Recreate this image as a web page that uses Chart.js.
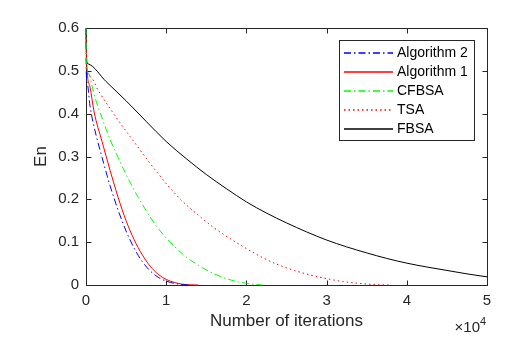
<!DOCTYPE html>
<html>
<head>
<meta charset="utf-8">
<script src="https://cdn.jsdelivr.net/npm/chart.js@4/dist/chart.umd.min.js"></script>
<style>
html,body{margin:0;padding:0;background:#fff;}
#wrap{width:518px;height:339px;}
</style>
</head>
<body>
<div id="wrap"><canvas id="c" width="518" height="339"></canvas></div>
<script>
// ---- data (x in iterations, y = En) ----
const seriesNames = ['Algorithm 2', 'Algorithm 1', 'CFBSA', 'TSA', 'FBSA'];

const alg2Iter = [0, 30, 170, 500, 1000, 2000, 3000, 4000, 5000, 6000, 7000, 8000, 9000, 10000, 11000, 12000, 13000];
const alg2En   = [0.6, 0.5, 0.471, 0.418, 0.37, 0.298, 0.232, 0.175, 0.126, 0.086, 0.055, 0.033, 0.018, 0.009, 0.004, 0.001, 0];

const alg1Iter = [0, 80, 500, 1000, 2000, 3000, 4000, 5000, 6000, 7000, 8000, 9000, 10000, 11000, 12000, 13000, 14000];
const alg1En   = [0.6, 0.52, 0.462, 0.405, 0.335, 0.268, 0.205, 0.15, 0.106, 0.071, 0.044, 0.025, 0.013, 0.006, 0.002, 0.0005, 0];

const cfbsaIter = [0, 50, 300, 1000, 2000, 3000, 4000, 5000, 6000, 7000, 8000, 9000, 10000, 12000, 14000, 16000, 18000, 20000, 22000];
const cfbsaEn   = [0.6, 0.515, 0.495, 0.445, 0.39, 0.34, 0.298, 0.258, 0.222, 0.189, 0.159, 0.132, 0.11, 0.073, 0.046, 0.026, 0.012, 0.004, 0];

const tsaIter = [0, 50, 500, 1500, 3000, 4500, 6000, 7500, 9000, 10500, 12000, 14000, 16000, 18000, 20000, 22000, 24000, 26000, 28000, 30000, 32000, 34000, 36000, 38000];
const tsaEn   = [0.6, 0.51, 0.488, 0.455, 0.412, 0.372, 0.334, 0.296, 0.26, 0.226, 0.196, 0.163, 0.133, 0.108, 0.085, 0.064, 0.047, 0.034, 0.023, 0.015, 0.008, 0.004, 0.001, 0];

const fbsaIter = [0, 100, 300, 2500, 5000, 7500, 10000, 12500, 15000, 17500, 20000, 22500, 25000, 27500, 30000, 32500, 35000, 37500, 40000, 42500, 45000, 47500, 50000];
const fbsaEn   = [0.6, 0.522, 0.516, 0.475, 0.43, 0.382, 0.335, 0.295, 0.258, 0.225, 0.194, 0.168, 0.145, 0.124, 0.105, 0.089, 0.075, 0.062, 0.051, 0.042, 0.034, 0.026, 0.019];

const xTicks = [0, 10000, 20000, 30000, 40000, 50000];
const xTickLabels = ['0', '1', '2', '3', '4', '5'];
const yTicks = [0, 0.1, 0.2, 0.3, 0.4, 0.5, 0.6];
const yTickLabels = ['0', '0.1', '0.2', '0.3', '0.4', '0.5', '0.6'];
const xTitle = 'Number of iterations';
const yTitle = 'En';
const xExponentBase = '\u00d710';
const xExponent = '4';

// ---- styling ----
const FONT = "'Liberation Sans', Arial, Helvetica, sans-serif";
const AX = '#262626';
const DASHDOT = [7, 3, 1.5, 3];
const DOT = [1.5, 3];

function pts(xs, ys) { return xs.map((x, i) => ({ x: x, y: ys[i] })); }

const styles = [
  { color: '#0000FF', dash: DASHDOT },
  { color: '#FF0000', dash: [] },
  { color: '#00FF00', dash: DASHDOT },
  { color: '#FF0000', dash: DOT },
  { color: '#000000', dash: [] }
];
const seriesData = [
  pts(alg2Iter, alg2En),
  pts(alg1Iter, alg1En),
  pts(cfbsaIter, cfbsaEn),
  pts(tsaIter, tsaEn),
  pts(fbsaIter, fbsaEn)
];

const datasets = seriesNames.map((name, i) => ({
  label: name,
  data: seriesData[i],
  borderColor: styles[i].color,
  backgroundColor: styles[i].color,
  borderDash: styles[i].dash,
  borderWidth: 1,
  pointRadius: 0,
  pointHoverRadius: 0,
  fill: false,
  cubicInterpolationMode: 'monotone',
  clip: false,
  order: name === 'CFBSA' ? -1 : i
}));

const framePlugin = {
  id: 'frame',
  beforeDatasetsDraw(chart) {
    const { ctx, chartArea: a, scales } = chart;
    ctx.save();
    ctx.strokeStyle = AX;
    ctx.lineWidth = 1;
    ctx.setLineDash([]);
    ctx.strokeRect(a.left + 0.5, a.top + 0.5, a.right - a.left, a.bottom - a.top);
    const tl = 5;
    ctx.beginPath();
    xTicks.forEach(v => {
      const px = Math.round(scales.x.getPixelForValue(v)) + 0.5;
      ctx.moveTo(px, a.bottom + 0.5); ctx.lineTo(px, a.bottom + 0.5 - tl);
      ctx.moveTo(px, a.top + 0.5); ctx.lineTo(px, a.top + 0.5 + tl);
    });
    yTicks.forEach(v => {
      const py = Math.round(scales.y.getPixelForValue(v)) + 0.5;
      ctx.moveTo(a.left + 0.5, py); ctx.lineTo(a.left + 0.5 + tl, py);
      ctx.moveTo(a.right + 0.5, py); ctx.lineTo(a.right + 0.5 - tl, py);
    });
    ctx.stroke();
    ctx.restore();
  },
  afterDraw(chart) {
    const { ctx, chartArea: a } = chart;
    ctx.save();
    // exponent label
    ctx.fillStyle = AX;
    ctx.textBaseline = 'alphabetic';
    ctx.textAlign = 'right';
    ctx.font = '15px ' + FONT;
    ctx.fillText(xExponentBase, a.right - 7, 332);
    ctx.textAlign = 'left';
    ctx.font = '11px ' + FONT;
    ctx.fillText(xExponent, a.right - 7, 325);
    // legend box
    const lx = 339, ly = 40, lw = 135, lh = 100;
    ctx.fillStyle = '#ffffff';
    ctx.fillRect(lx, ly, lw, lh);
    ctx.strokeStyle = AX;
    ctx.lineWidth = 1;
    ctx.setLineDash([]);
    ctx.strokeRect(lx + 0.5, ly + 0.5, lw, lh);
    ctx.font = '14px ' + FONT;
    ctx.textAlign = 'left';
    ctx.textBaseline = 'middle';
    seriesNames.forEach((name, i) => {
      const y = Math.round(ly + 12.7 + i * 19);
      ctx.lineWidth = 1.3;
      ctx.lineCap = 'butt';
      ctx.strokeStyle = styles[i].color;
      ctx.setLineDash(styles[i].dash);
      ctx.beginPath();
      ctx.moveTo(lx + 5, y);
      ctx.lineTo(lx + 54, y);
      ctx.stroke();
      ctx.setLineDash([]);
      ctx.fillStyle = '#000000';
      ctx.fillText(name, lx + 58, y + 0.5);
    });
    ctx.restore();
  }
};

new Chart(document.getElementById('c'), {
  type: 'line',
  data: { datasets: datasets },
  options: {
    responsive: false,
    devicePixelRatio: 1,
    animation: false,
    events: [],
    layout: { padding: { left: 0, top: 28, right: 31, bottom: 0 } },
    plugins: { legend: { display: false }, tooltip: { enabled: false }, title: { display: false } },
    scales: {
      x: {
        type: 'linear',
        min: 0, max: 50000,
        grid: { display: false, drawTicks: false },
        border: { display: false },
        afterBuildTicks(s) { s.ticks = xTicks.map(v => ({ value: v })); },
        afterFit(s) { s.height = 54; },
        ticks: {
          autoSkip: false, maxRotation: 0, padding: 7,
          color: AX, font: { family: FONT, size: 15 },
          callback: (v, i) => xTickLabels[i]
        },
        title: {
          display: true, text: xTitle, color: AX,
          font: { family: FONT, size: 17 },
          padding: { top: 0, bottom: 7 }
        }
      },
      y: {
        type: 'linear',
        min: 0, max: 0.6,
        grid: { display: false, drawTicks: false },
        border: { display: false },
        afterBuildTicks(s) { s.ticks = yTicks.map(v => ({ value: v })); },
        afterFit(s) { s.width = 86; },
        ticks: {
          autoSkip: false, padding: 7,
          color: AX, font: { family: FONT, size: 15 },
          callback: (v, i) => yTickLabels[i]
        },
        title: {
          display: true, text: yTitle, color: AX,
          font: { family: FONT, size: 17 },
          padding: { top: 31.5, bottom: 0 }
        }
      }
    }
  },
  plugins: [framePlugin]
});
</script>
</body>
</html>
